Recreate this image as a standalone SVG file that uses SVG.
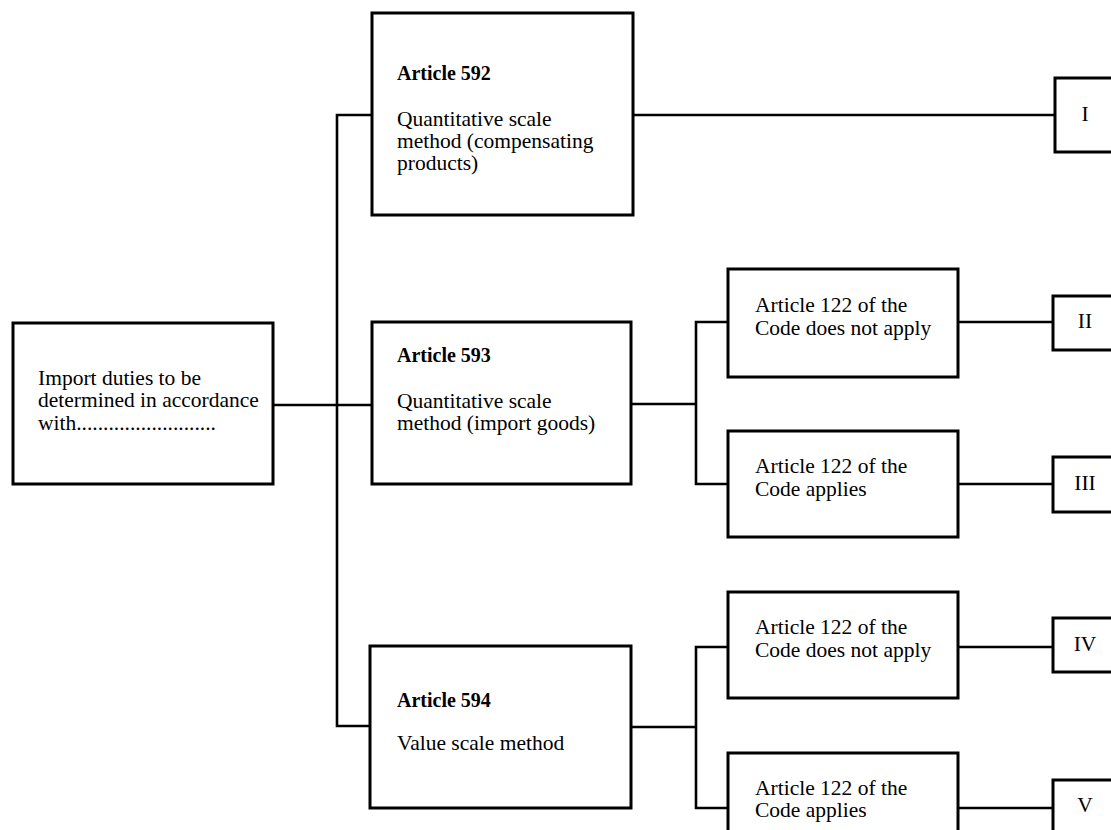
<svg xmlns="http://www.w3.org/2000/svg" width="1111" height="830" viewBox="0 0 1111 830">
<style>
.box{fill:#fff;stroke:#000;stroke-width:3}
.ln{fill:none;stroke:#000;stroke-width:2.6;stroke-linecap:square}
text{font-family:"Liberation Serif","Times New Roman",serif;font-size:21.5px;fill:#000}
.b{font-weight:bold;font-size:20px}
.c{text-anchor:middle}
</style>
<rect width="1111" height="830" fill="#fff"/>
<g id="connectors">
<path class="ln" d="M273 405 H337 M337 115 V726 M337 115 H372 M337 405 H372 M337 726 H370"/>
<path class="ln" d="M633 115 H1055"/>
<path class="ln" d="M631 404 H696 M696 322 V484 M696 322 H728 M696 484 H728"/>
<path class="ln" d="M631 727 H696 M696 647 V808 M696 647 H728 M696 808 H728"/>
<path class="ln" d="M958 322 H1053 M958 484 H1053 M958 647 H1053 M958 808 H1053"/>
</g>
<g id="n-import">
<rect class="box" x="13" y="323" width="260" height="161"/>
<text x="38" y="385">Import duties to be</text>
<text x="38" y="407">determined in accordance</text>
<text x="38" y="430">with..........................</text>
</g>
<g id="n-592">
<rect class="box" x="372" y="13" width="261" height="202"/>
<text class="b" x="397" y="80">Article 592</text>
<text x="397" y="126">Quantitative scale</text>
<text x="397" y="148">method (compensating</text>
<text x="397" y="170">products)</text>
</g>
<g id="n-593">
<rect class="box" x="372" y="322" width="259" height="162"/>
<text class="b" x="397" y="362">Article 593</text>
<text x="397" y="408">Quantitative scale</text>
<text x="397" y="430">method (import goods)</text>
</g>
<g id="n-594">
<rect class="box" x="370" y="646" width="261" height="162"/>
<text class="b" x="397" y="707">Article 594</text>
<text x="397" y="750">Value scale method</text>
</g>
<g id="n-593a">
<rect class="box" x="728" y="269" width="230" height="108"/>
<text x="755" y="312">Article 122 of the</text>
<text x="755" y="335">Code does not apply</text>
</g>
<g id="n-593b">
<rect class="box" x="728" y="431" width="230" height="106"/>
<text x="755" y="473">Article 122 of the</text>
<text x="755" y="496">Code applies</text>
</g>
<g id="n-594a">
<rect class="box" x="728" y="592" width="230" height="106"/>
<text x="755" y="634">Article 122 of the</text>
<text x="755" y="657">Code does not apply</text>
</g>
<g id="n-594b">
<rect class="box" x="728" y="753" width="230" height="100"/>
<text x="755" y="795">Article 122 of the</text>
<text x="755" y="817">Code applies</text>
</g>
<g id="n-I">
<rect class="box" x="1055" y="78" width="70" height="74"/>
<text class="c" x="1085" y="121">I</text>
</g>
<g id="n-II">
<rect class="box" x="1053" y="296" width="70" height="54"/>
<text class="c" x="1085" y="328">II</text>
</g>
<g id="n-III">
<rect class="box" x="1053" y="457" width="70" height="55"/>
<text class="c" x="1085" y="490">III</text>
</g>
<g id="n-IV">
<rect class="box" x="1053" y="618" width="70" height="54"/>
<text class="c" x="1085" y="651">IV</text>
</g>
<g id="n-V">
<rect class="box" x="1053" y="780" width="70" height="60"/>
<text class="c" x="1085" y="812">V</text>
</g>
</svg>
